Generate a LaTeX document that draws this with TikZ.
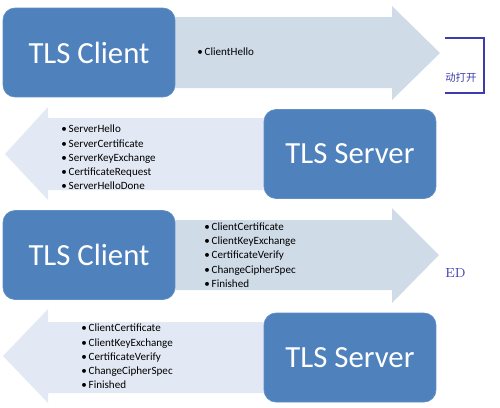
\documentclass[tikz,border=0pt]{standalone}
\usepackage{fontspec}
\newfontfamily\calibri{Carlito}
\newfontfamily\cjk{Noto Sans CJK SC}
\usepackage{tikz}
\usetikzlibrary{positioning}
\definecolor{boxblue}{RGB}{79,129,189}
\definecolor{arrowdark}{RGB}{208,219,232}
\definecolor{arrowlight}{RGB}{227,233,244}
\definecolor{markblue}{RGB}{60,60,175}

\begin{document}
\begin{tikzpicture}
	[   x=0.02cm, y=-0.02cm,
		peer/.style={draw=boxblue!90!white,fill=boxblue,rounded corners=0.24cm,minimum width=3.44cm,minimum height=1.78cm,text=white,font=\calibri\fontsize{17.5}{20}\selectfont},
		msgs/.style={anchor=west,align=left,inner sep=0pt,font=\calibri\fontsize{6.3}{8.1}\selectfont},
	]
	\tikzset{fwd arrow/.style={fill=arrowdark},back arrow/.style={fill=arrowlight}}
	\useasboundingbox (0,0) rectangle (500,407);
	
	\fill[fwd arrow] (160,17) -- (392,17) -- (392,6) -- (440,53) -- (392,100) -- (392,88) -- (160,88) -- cycle;
	\fill[back arrow] (280,118) -- (48,118) -- (48,107) -- (5,154) -- (48,200) -- (48,190) -- (280,190) -- cycle;
	\fill[fwd arrow] (160,220) -- (392,220) -- (392,208) -- (439,255) -- (392,303) -- (392,290) -- (160,290) -- cycle;
	\fill[back arrow] (280,322) -- (48,322) -- (48,309) -- (3,356) -- (48,403) -- (48,393) -- (280,393) -- cycle;
	
	\node[peer] (c-1) at (89,52.5) {TLS Client};
	\node[peer] (s-1) at (350,154) {TLS Server};
	\node[peer] (c-2) at (89,255) {TLS Client};
	\node[peer] (s-2) at (350,357.5) {TLS Server};
	
	\node[msgs] (m-1) at (197,52) {\textbullet\,ClientHello};
	\node[msgs] (m-2) at (61,157.5) {\textbullet\,ServerHello\\\textbullet\,ServerCertificate\\\textbullet\,ServerKeyExchange\\\textbullet\,CertificateRequest\\\textbullet\,ServerHelloDone};
	\node[msgs] (m-3) at (204,255) {\textbullet\,ClientCertificate\\\textbullet\,ClientKeyExchange\\\textbullet\,CertificateVerify\\\textbullet\,ChangeCipherSpec\\\textbullet\,Finished};
	\node[msgs] (m-4) at (81,356.5) {\textbullet\,ClientCertificate\\\textbullet\,ClientKeyExchange\\\textbullet\,CertificateVerify\\\textbullet\,ChangeCipherSpec\\\textbullet\,Finished};
	
	\draw[markblue,line width=0.8pt] (445,38) -- (484,38) -- (484,93) -- (445,93);
	\node[text=markblue,anchor=west,inner sep=0pt,font=\cjk\fontsize{5.9}{7}\selectfont] (zh) at (445,78) {动打开};
	\node[text=markblue,anchor=west,inner sep=0pt,font=\fontsize{7.5}{9}\selectfont] (ed) at (445,273) {ED};
\end{tikzpicture}
\end{document}
